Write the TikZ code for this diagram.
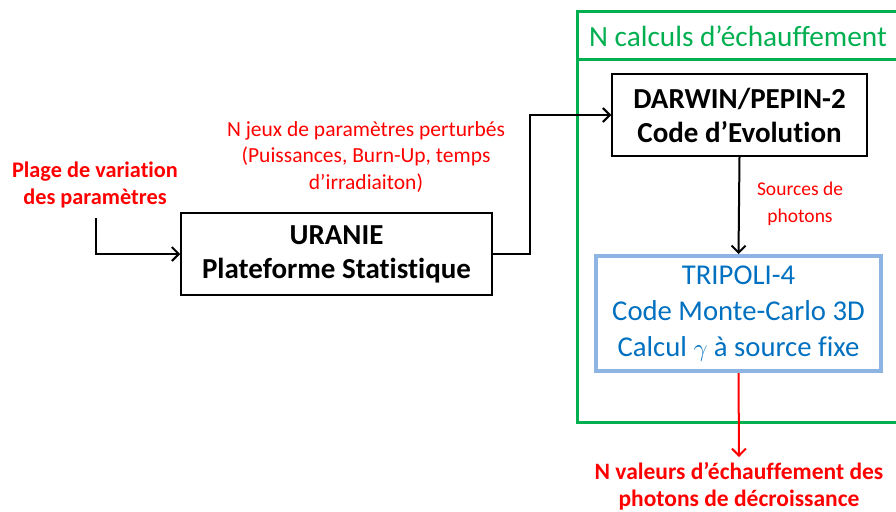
\documentclass[tikz,border=0pt]{standalone}
\usepackage{fontspec}
\setmainfont[Ligatures={NoCommon}]{Carlito}
\usetikzlibrary{arrows.meta}
\definecolor{grn}{RGB}{0,176,80}
\definecolor{tblue}{RGB}{0,112,192}
\definecolor{bblue}{RGB}{142,180,227}
\definecolor{rd}{RGB}{255,0,0}
\tikzset{
  blackbox/.style={draw=black, line width=1.5pt, minimum width=#1, inner sep=0pt, align=center, font=\fontsize{29}{34}\selectfont\bfseries},
  conn/.style={line width=2pt, -{Straight Barb[length=7pt,width=14pt,line width=2pt]}},
  redlabel/.style={text=rd, align=center, inner sep=0pt},
}
\begin{document}
\begin{tikzpicture}[x=1pt,y=-1pt]
\useasboundingbox (0,0) rectangle (896,511);
\clip (0,0) rectangle (896,511);
% green container
\draw[grn, line width=3pt] (577,12) rectangle (905,422);
\draw[grn, line width=3pt] (577,60) -- (905,60);
\node[text=grn, font=\fontsize{29.3}{30}\selectfont, anchor=center] (title) at (738,36) {N calculs d’échauffement};
% boxes
\node[blackbox=311pt, minimum height=82pt] (uranie) at (336.5,254) {URANIE\\Plateforme Statistique};
\node[blackbox=255pt, minimum height=82pt] (darwin) at (739.5,115) {DARWIN/PEPIN-2\\Code d’Evolution};
\node[draw=bblue, line width=4pt, minimum width=285pt, minimum height=115pt, inner sep=0pt, align=center, text=tblue, font=\fontsize{28.7}{36}\selectfont] (tripoli) at (738.5,313.5) {TRIPOLI-4\\Code Monte-Carlo 3D\\Calcul $\gamma$ à source fixe};
% labels
\node[redlabel, font=\fontsize{22.3}{27}\selectfont\bfseries] (plage) at (95,185) {Plage de variation\\des paramètres};
\node[redlabel, font=\fontsize{21.5}{26.5}\selectfont] (jeux) at (366,157) {N jeux de paramètres perturbés\\(Puissances, Burn-Up, temps\\d’irradiaiton)};
\node[redlabel, font=\fontsize{19.5}{27}\selectfont] (sources) at (800,204) {Sources de\\photons};
\node[redlabel, font=\fontsize{23.5}{27}\selectfont\bfseries] (result) at (739,486) {N valeurs d’échauffement des\\photons de décroissance};
\coordinate (plagestart) at (96,218);
\coordinate (resend) at (739,457);
% connectors
\draw[conn] (plagestart) |- (uranie.west);
\draw[conn] (uranie.east) -- ++(37,0) |- (darwin.west);
\draw[conn] (darwin.south) -- (tripoli.north);
\draw[conn, draw=rd] (tripoli.south) -- (resend);
\end{tikzpicture}
\end{document}
